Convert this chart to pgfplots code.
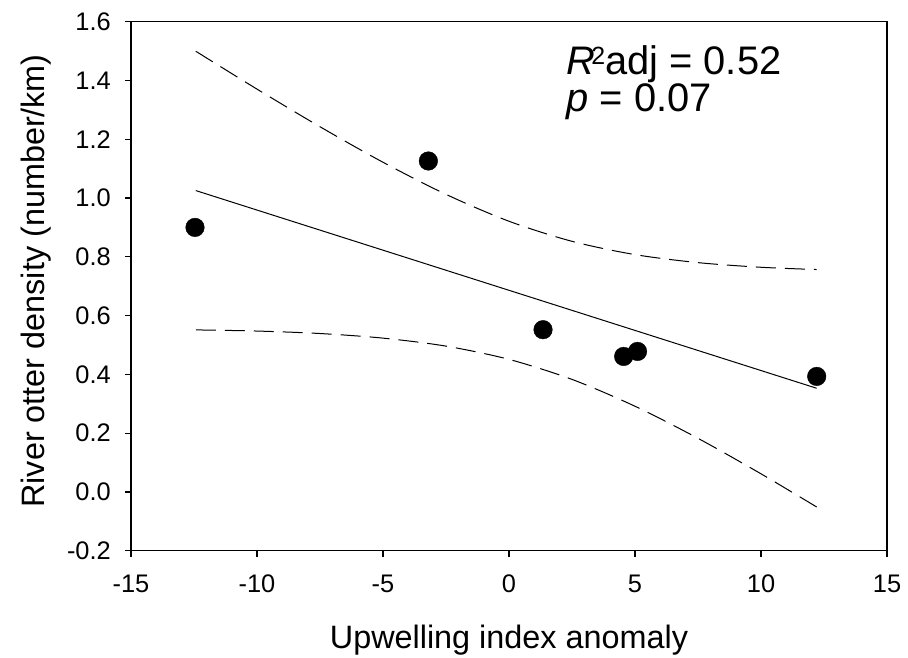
\documentclass[border=0pt]{standalone}
\usepackage{fontspec}
\setmainfont{Liberation Sans}
\usepackage{pgfplots}
\pgfplotsset{compat=1.18}
\begin{document}
\begin{tikzpicture}
\begin{axis}[
  scale only axis,
  width=756bp, height=529bp,
  xmin=-15, xmax=15, ymin=-0.2, ymax=1.6,
  xtick={-15,-10,...,15},
  ytick={-0.2,0,0.2,0.4,0.6,0.8,1.0,1.2,1.4,1.6},
  axis line style={line width=1.2bp},
  tick style={line width=1.2bp, black},
  major tick length=6bp,
  tick align=outside,
  xtick pos=bottom, ytick pos=left,
  /pgf/number format/assume math mode=true,
  yticklabel style={/pgf/number format/fixed, /pgf/number format/fixed zerofill, /pgf/number format/precision=1},
  every tick label/.append style={font=\fontsize{25.5}{30}\selectfont, inner sep=0pt},
  xticklabel style={anchor=north, yshift=-18bp},
  yticklabel style={anchor=east, xshift=-14bp},
  xlabel={Upwelling index anomaly},
  ylabel={River otter density (number/km)},
  every axis x label/.style={at={(axis description cs:0.5,-0.1853)}, anchor=base, font=\fontsize{32.5}{38}\selectfont},
  every axis y label/.style={at={(axis description cs:-0.1138,0.51)}, rotate=90, anchor=base, font=\fontsize{32.5}{38}\selectfont},
  clip=false,
]
% regression line
\addplot[black, line width=1bp] coordinates {(-12.43,1.0254) (12.21,0.3527)};
% upper 95% confidence band
\addplot[black, line width=1bp, dash pattern=on 20bp off 9bp, smooth] coordinates {
(-12.43,1.4995) (-10,1.3706) (-7.5,1.2426) (-5,1.1217) (-2.5,1.0125) (0,0.9210)
(2.5,0.8527) (5,0.8075) (7.5,0.7802) (10,0.7644) (12.21,0.7567)};
% lower 95% confidence band
\addplot[black, line width=1bp, dash pattern=on 20bp off 9bp, smooth] coordinates {
(-12.43,0.5513) (-10,0.5474) (-7.5,0.5390) (-5,0.5233) (-2.5,0.4961) (0,0.4510)
(2.5,0.3829) (5,0.2915) (7.5,0.1824) (10,0.0616) (12.21,-0.0513)};
% observations
\addplot[only marks, mark=*, mark size=9.3bp, black, mark options={fill=black}] coordinates {
(-12.46,0.900) (-3.2,1.126) (1.35,0.552) (4.55,0.461) (5.10,0.478) (12.21,0.393)};
\node[anchor=north west, inner sep=0pt, align=left, font=\fontsize{40}{34}\selectfont] at (axis cs:2.28,1.518)
  {\textit{R}\kern-4bp\raisebox{10.7bp}{\fontsize{25}{27}\selectfont 2}adj = 0.52\\\textit{p} = 0.07};
\end{axis}
\pgfresetboundingbox
\path ([shift={(-131bp,-107.3bp)}]current axis.south west) rectangle ([shift={(21bp,21.7bp)}]current axis.north east);
\end{tikzpicture}
\end{document}
